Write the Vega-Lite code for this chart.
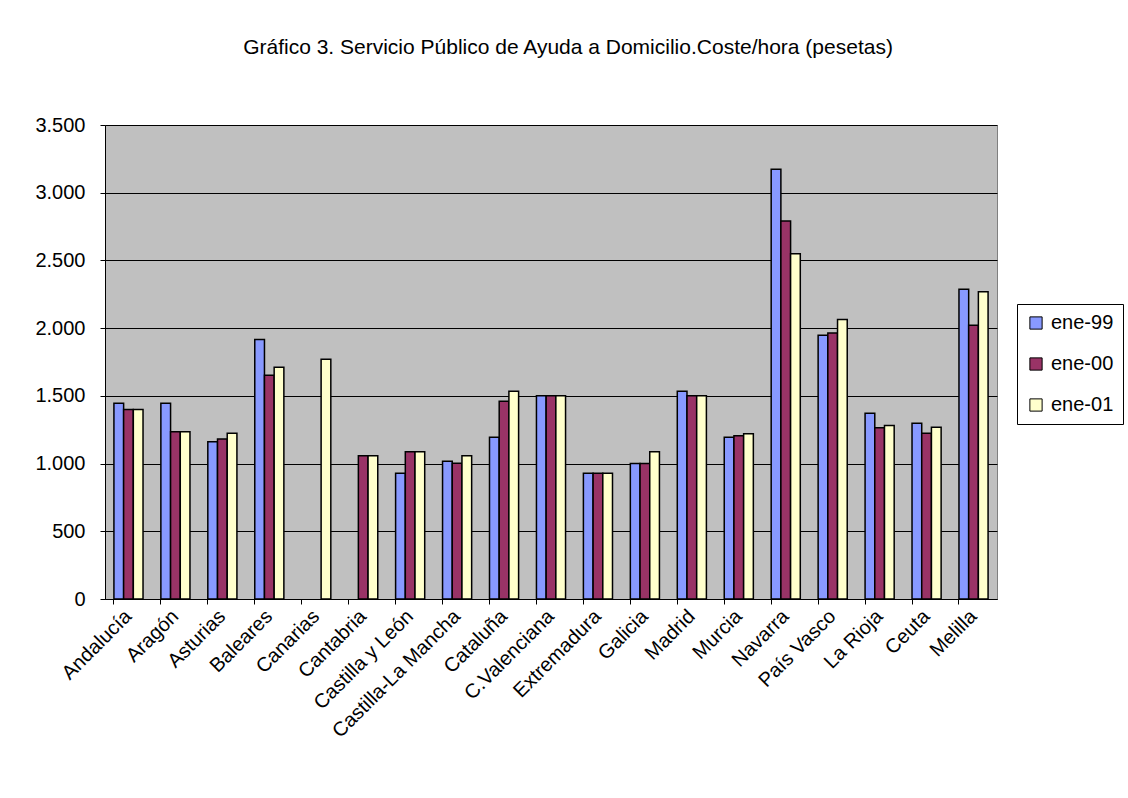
{
  "$schema": "https://vega.github.io/schema/vega-lite/v6.json",
  "autosize": "none",
  "width": 892,
  "height": 474,
  "padding": {"left": 105, "top": 125, "right": 131, "bottom": 199},
  "background": "white",
  "title": {
    "text": "Gráfico 3. Servicio Público de Ayuda a Domicilio.Coste/hora (pesetas)",
    "font": "Liberation Sans",
    "fontSize": 21,
    "fontWeight": "normal",
    "color": "black",
    "dx": 17,
    "offset": 57
  },
  "config": {
    "view": {"fill": "#C0C0C0", "stroke": "#808080", "strokeWidth": 1},
    "font": "Liberation Sans"
  },
  "data": {
    "values": [
      {"ccaa": "Andalucía", "serie": "ene-99", "coste": 1445},
      {"ccaa": "Andalucía", "serie": "ene-00", "coste": 1400},
      {"ccaa": "Andalucía", "serie": "ene-01", "coste": 1400},
      {"ccaa": "Aragón", "serie": "ene-99", "coste": 1445},
      {"ccaa": "Aragón", "serie": "ene-00", "coste": 1235},
      {"ccaa": "Aragón", "serie": "ene-01", "coste": 1235},
      {"ccaa": "Asturias", "serie": "ene-99", "coste": 1162},
      {"ccaa": "Asturias", "serie": "ene-00", "coste": 1181},
      {"ccaa": "Asturias", "serie": "ene-01", "coste": 1223},
      {"ccaa": "Baleares", "serie": "ene-99", "coste": 1917},
      {"ccaa": "Baleares", "serie": "ene-00", "coste": 1652},
      {"ccaa": "Baleares", "serie": "ene-01", "coste": 1711},
      {"ccaa": "Canarias", "serie": "ene-99", "coste": null},
      {"ccaa": "Canarias", "serie": "ene-00", "coste": null},
      {"ccaa": "Canarias", "serie": "ene-01", "coste": 1770},
      {"ccaa": "Cantabria", "serie": "ene-99", "coste": null},
      {"ccaa": "Cantabria", "serie": "ene-00", "coste": 1058},
      {"ccaa": "Cantabria", "serie": "ene-01", "coste": 1058},
      {"ccaa": "Castilla y León", "serie": "ene-99", "coste": 928},
      {"ccaa": "Castilla y León", "serie": "ene-00", "coste": 1088},
      {"ccaa": "Castilla y León", "serie": "ene-01", "coste": 1088},
      {"ccaa": "Castilla-La Mancha", "serie": "ene-99", "coste": 1017},
      {"ccaa": "Castilla-La Mancha", "serie": "ene-00", "coste": 1002},
      {"ccaa": "Castilla-La Mancha", "serie": "ene-01", "coste": 1058},
      {"ccaa": "Cataluña", "serie": "ene-99", "coste": 1194},
      {"ccaa": "Cataluña", "serie": "ene-00", "coste": 1460},
      {"ccaa": "Cataluña", "serie": "ene-01", "coste": 1534},
      {"ccaa": "C.Valenciana", "serie": "ene-99", "coste": 1500},
      {"ccaa": "C.Valenciana", "serie": "ene-00", "coste": 1500},
      {"ccaa": "C.Valenciana", "serie": "ene-01", "coste": 1500},
      {"ccaa": "Extremadura", "serie": "ene-99", "coste": 928},
      {"ccaa": "Extremadura", "serie": "ene-00", "coste": 928},
      {"ccaa": "Extremadura", "serie": "ene-01", "coste": 928},
      {"ccaa": "Galicia", "serie": "ene-99", "coste": 1000},
      {"ccaa": "Galicia", "serie": "ene-00", "coste": 1000},
      {"ccaa": "Galicia", "serie": "ene-01", "coste": 1088},
      {"ccaa": "Madrid", "serie": "ene-99", "coste": 1534},
      {"ccaa": "Madrid", "serie": "ene-00", "coste": 1500},
      {"ccaa": "Madrid", "serie": "ene-01", "coste": 1500},
      {"ccaa": "Murcia", "serie": "ene-99", "coste": 1194},
      {"ccaa": "Murcia", "serie": "ene-00", "coste": 1206},
      {"ccaa": "Murcia", "serie": "ene-01", "coste": 1221},
      {"ccaa": "Navarra", "serie": "ene-99", "coste": 3173},
      {"ccaa": "Navarra", "serie": "ene-00", "coste": 2791},
      {"ccaa": "Navarra", "serie": "ene-01", "coste": 2550},
      {"ccaa": "País Vasco", "serie": "ene-99", "coste": 1947},
      {"ccaa": "País Vasco", "serie": "ene-00", "coste": 1964},
      {"ccaa": "País Vasco", "serie": "ene-01", "coste": 2063},
      {"ccaa": "La Rioja", "serie": "ene-99", "coste": 1371},
      {"ccaa": "La Rioja", "serie": "ene-00", "coste": 1265},
      {"ccaa": "La Rioja", "serie": "ene-01", "coste": 1282},
      {"ccaa": "Ceuta", "serie": "ene-99", "coste": 1297},
      {"ccaa": "Ceuta", "serie": "ene-00", "coste": 1223},
      {"ccaa": "Ceuta", "serie": "ene-01", "coste": 1268},
      {"ccaa": "Melilla", "serie": "ene-99", "coste": 2287},
      {"ccaa": "Melilla", "serie": "ene-00", "coste": 2021},
      {"ccaa": "Melilla", "serie": "ene-01", "coste": 2269}
    ]
  },
  "mark": {"type": "bar", "stroke": "black", "strokeWidth": 1.5},
  "encoding": {
    "x": {
      "field": "ccaa",
      "type": "nominal",
      "sort": null,
      "scale": {"paddingInner": 0.38, "paddingOuter": 0.19},
      "axis": {
        "title": null,
        "labelAngle": -45,
        "labelAlign": "right",
        "labelBaseline": "middle",
        "labelFontSize": 20,
        "labelColor": "black",
        "labelFont": "Liberation Sans",
        "labelPadding": 9,
        "labelOverlap": false,
        "bandPosition": 0,
        "domainColor": "black",
        "tickColor": "black",
        "tickSize": 5,
        "grid": false
      }
    },
    "xOffset": {"field": "serie", "sort": ["ene-99", "ene-00", "ene-01"], "scale": {"paddingInner": 0}},
    "y": {
      "field": "coste",
      "type": "quantitative",
      "scale": {"domain": [0, 3500], "nice": false},
      "axis": {
        "title": null,
        "values": [0, 500, 1000, 1500, 2000, 2500, 3000, 3500],
        "labelExpr": "replace(format(datum.value, ','), ',', '.')",
        "labelFontSize": 20,
        "labelColor": "black",
        "labelFont": "Liberation Sans",
        "labelPadding": 15,
        "domainColor": "black",
        "tickColor": "black",
        "tickSize": 5,
        "gridColor": "black",
        "gridWidth": 1,
        "gridOpacity": 1
      }
    },
    "color": {
      "field": "serie",
      "type": "nominal",
      "sort": ["ene-99", "ene-00", "ene-01"],
      "scale": {"domain": ["ene-99", "ene-00", "ene-01"], "range": ["#8899FF", "#993366", "#FFFFCC"]},
      "legend": {
        "title": null,
        "orient": "none",
        "legendX": 912,
        "legendY": 179,
        "symbolType": "square",
        "symbolSize": 150,
        "symbolStrokeColor": "black",
        "symbolStrokeWidth": 1,
        "labelFontSize": 20,
        "labelFont": "Liberation Sans",
        "labelColor": "black",
        "labelOffset": 5,
        "rowPadding": 21,
        "padding": 9,
        "strokeColor": "black",
        "fillColor": "white"
      }
    }
  }
}
